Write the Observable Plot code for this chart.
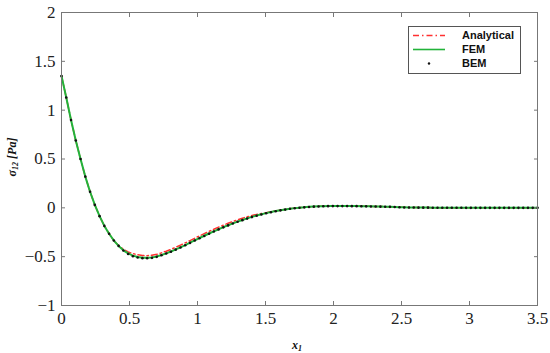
<!DOCTYPE html>
<html><head><meta charset="utf-8">
<script src="https://cdn.jsdelivr.net/npm/d3@7"></script>
<script src="https://cdn.jsdelivr.net/npm/@observablehq/plot@0.6"></script>
<style>
body{margin:0;background:#fff;}
#wrap{position:relative;width:550px;height:353px;}
#ylab{position:absolute;left:12px;top:157px;transform:translate(-50%,-50%) rotate(-90deg);font:bold italic 12px "Liberation Serif",serif;white-space:nowrap;color:#111;}
#xlab{position:absolute;left:297px;top:345px;transform:translate(-50%,-50%);font:bold italic 12px "Liberation Serif",serif;white-space:nowrap;color:#111;}
sub{font-size:8px;vertical-align:-2px;}
#legend{position:absolute;left:408px;top:26px;}
</style></head><body><div id="wrap"></div>
<script>
const seriesNames = ["Analytical", "FEM", "BEM"];
const xTicks = [0, 0.5, 1, 1.5, 2, 2.5, 3, 3.5];
const xTickLabels = ["0", "0.5", "1", "1.5", "2", "2.5", "3", "3.5"];
const yTicks = [-1, -0.5, 0, 0.5, 1, 1.5, 2];
const yTickLabels = ["\u22121", "\u22120.5", "0", "0.5", "1", "1.5", "2"];

const xs = [0,0.035,0.07,0.105,0.14,0.175,0.21,0.245,0.28,0.315,0.35,0.385,0.42,0.455,0.49,0.525,0.56,0.595,0.63,0.665,
0.7,0.735,0.77,0.805,0.84,0.875,0.91,0.945,0.98,1.015,1.05,1.085,1.12,1.155,1.19,1.225,1.26,1.295,1.33,1.365,
1.4,1.435,1.47,1.505,1.54,1.575,1.61,1.645,1.68,1.715,1.75,1.785,1.82,1.855,1.89,1.925,1.96,1.995,2.03,2.065,
2.1,2.135,2.17,2.205,2.24,2.275,2.31,2.345,2.38,2.415,2.45,2.485,2.52,2.555,2.59,2.625,2.66,2.695,2.73,2.765,
2.8,2.835,2.87,2.905,2.94,2.975,3.01,3.045,3.08,3.115,3.15,3.185,3.22,3.255,3.29,3.325,3.36,3.395,3.43,3.465,3.5];

const fem = [1.35,1.13,0.90,0.69,0.50,0.32,0.165,0.03,-0.085,-0.185,-0.265,-0.335,-0.39,-0.435,-0.467,-0.489,-0.503,-0.511,-0.512,-0.508,
-0.498,-0.483,-0.466,-0.447,-0.426,-0.404,-0.381,-0.357,-0.333,-0.309,-0.286,-0.263,-0.241,-0.219,-0.198,-0.178,-0.159,-0.141,-0.124,-0.108,
-0.093,-0.079,-0.066,-0.054,-0.043,-0.033,-0.024,-0.016,-0.009,-0.003,0.002,0.006,0.010,0.013,0.015,0.017,0.018,0.019,0.019,0.019,
0.019,0.018,0.018,0.017,0.016,0.015,0.014,0.013,0.012,0.011,0.009,0.007,0.005,0.004,0.004,0.003,0.003,0.003,0.002,0.002,
0.002,0.002,0.002,0.002,0.001,0.001,0.001,0.001,0.001,0.001,0.001,0.001,0,0,0,0,0,0,0,0,0];

const analytical = [1.35,1.13,0.90,0.69,0.50,0.32,0.165,0.03,-0.085,-0.185,-0.265,-0.335,-0.385,-0.425,-0.452,-0.468,-0.481,-0.489,-0.490,-0.486,
-0.476,-0.461,-0.444,-0.425,-0.404,-0.382,-0.359,-0.335,-0.311,-0.287,-0.264,-0.241,-0.219,-0.198,-0.178,-0.158,-0.140,-0.123,-0.106,-0.092,
-0.079,-0.068,-0.058,-0.049,-0.040,-0.031,-0.024,-0.016,-0.009,-0.003,0.002,0.006,0.010,0.013,0.015,0.017,0.018,0.019,0.019,0.019,
0.019,0.018,0.018,0.017,0.016,0.015,0.014,0.013,0.012,0.011,0.009,0.007,0.005,0.004,0.004,0.003,0.003,0.003,0.002,0.002,
0.002,0.002,0.002,0.002,0.001,0.001,0.001,0.001,0.001,0.001,0.001,0.001,0,0,0,0,0,0,0,0,0];

const bem = [1.35,1.13,0.90,0.69,0.50,0.32,0.165,0.03,-0.085,-0.185,-0.265,-0.335,-0.39,-0.437,-0.472,-0.495,-0.508,-0.515,-0.516,-0.512,
-0.502,-0.486,-0.468,-0.449,-0.428,-0.406,-0.383,-0.359,-0.335,-0.311,-0.288,-0.265,-0.243,-0.221,-0.200,-0.180,-0.161,-0.143,-0.126,-0.110,
-0.095,-0.081,-0.068,-0.056,-0.045,-0.035,-0.026,-0.018,-0.010,-0.004,0.001,0.005,0.009,0.012,0.014,0.016,0.017,0.018,0.018,0.018,
0.018,0.017,0.017,0.016,0.015,0.014,0.013,0.012,0.011,0.010,0.008,0.006,0.004,0.003,0.003,0.002,0.002,0.002,0.001,0.001,
0.001,0.001,0.001,0.001,0.001,0,0,0,0,0,0,0,0,0,0,0,0,0,0,0,0];

const colors = {Analytical: "#ff3030", FEM: "#22b33a", BEM: "#111111"};

const rows = (ys) => xs.map((x, i) => ({x, y: ys[i]}));
const axisFont = {fontFamily: "Liberation Serif", fontSize: 17};

const plot = Plot.plot({
  width: 550, height: 353,
  marginLeft: 61, marginRight: 13, marginTop: 12, marginBottom: 48,
  style: {background: "#fff", color: "#222"},
  x: {domain: [0, 3.5]},
  y: {domain: [-1, 2]},
  marks: [
    Plot.line(rows(analytical), {x: "x", y: "y", stroke: colors.Analytical, strokeWidth: 1.5, strokeDasharray: "6,3,1.5,3"}),
    Plot.line(rows(fem), {x: "x", y: "y", stroke: colors.FEM, strokeWidth: 2}),
    Plot.dot(rows(bem), {x: "x", y: "y", r: 1.3, fill: colors.BEM, stroke: null}),
    Plot.frame({stroke: "#777", strokeWidth: 1}),
    Plot.axisX({ticks: xTicks, tickSize: -4, tickPadding: 10, stroke: "#777", fill: "#222", ...axisFont, tickFormat: (d, i) => xTickLabels[i], label: null}),
    Plot.axisX({anchor: "top", ticks: xTicks, tickSize: -4, stroke: "#777", tickFormat: () => "", label: null}),
    Plot.axisY({ticks: yTicks, tickSize: -4, tickPadding: 10, stroke: "#777", fill: "#222", ...axisFont, tickFormat: (d, i) => yTickLabels[i], label: null}),
    Plot.axisY({anchor: "right", ticks: yTicks, tickSize: -4, stroke: "#777", tickFormat: () => "", label: null})
  ]
});

const wrap = document.getElementById("wrap");
wrap.appendChild(plot);
d3.select(plot).selectAll("text").style("font-family", "'Liberation Serif', serif").style("font-size", "17px");

const ylab = document.createElement("div");
ylab.id = "ylab";
ylab.innerHTML = "\u03c3<sub>12</sub> [<i>Pa</i>]";
wrap.appendChild(ylab);

const xlab = document.createElement("div");
xlab.id = "xlab";
xlab.innerHTML = "x<sub>1</sub>";
wrap.appendChild(xlab);

// legend
const lg = d3.select(wrap).append("svg").attr("id", "legend").attr("width", 113).attr("height", 48)
  .style("font-family", "'Liberation Sans', Arial, sans-serif").style("font-weight", "bold").style("font-size", "11px");
lg.append("rect").attr("x", 0.5).attr("y", 0.5).attr("width", 112).attr("height", 47).attr("fill", "#fff").attr("stroke", "#555");
seriesNames.forEach((name, i) => {
  const cy = 9.5 + i * 14;
  if (name === "BEM") {
    lg.append("circle").attr("cx", 21).attr("cy", cy).attr("r", 1.2).attr("fill", colors.BEM);
  } else {
    lg.append("line").attr("x1", 5).attr("x2", 37).attr("y1", cy).attr("y2", cy)
      .attr("stroke", colors[name]).attr("stroke-width", name === "FEM" ? 1.6 : 1.4)
      .attr("stroke-dasharray", name === "Analytical" ? "6,3,1.5,3" : null);
  }
  lg.append("text").attr("x", 54).attr("y", cy).attr("dy", "0.35em").attr("fill", "#111").text(name);
});
</script>
</body></html>
